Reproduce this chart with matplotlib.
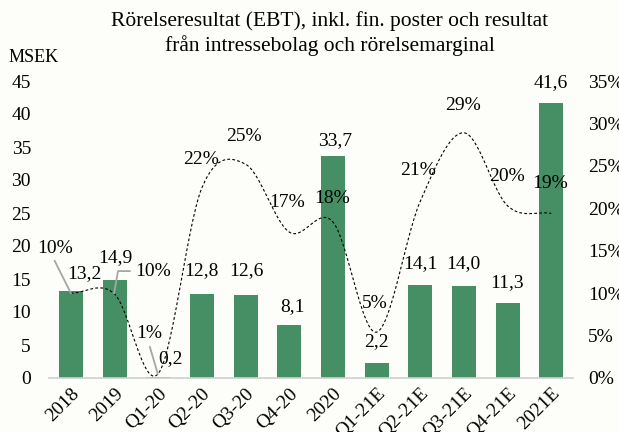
import numpy as np
import matplotlib.pyplot as plt

plt.rcParams['font.family'] = ['Liberation Serif', 'DejaVu Serif']

kategorier = ['2018', '2019', 'Q1-20', 'Q2-20', 'Q3-20', 'Q4-20', '2020',
              'Q1-21E', 'Q2-21E', 'Q3-21E', 'Q4-21E', '2021E']
ebt = [13.2, 14.9, 0.2, 12.8, 12.6, 8.1, 33.7, 2.2, 14.1, 14.0, 11.3, 41.6]
marginal = [10.0, 9.9, 0.5, 22.4, 25.2, 17.2, 18.4, 5.4, 20.8, 28.9, 20.3, 19.4]
marginal_text = ['10%', '10%', '1%', '22%', '25%', '17%', '18%', '5%', '21%', '29%', '20%', '19%']

gron = '#468f64'
bg = '#fdfdf9'


def catmull_rom(x, y, n=30):
    # jämn kurva genom punkterna (som Excels utjämnade linje)
    x = np.asarray(x, float)
    y = np.asarray(y, float)
    px = np.concatenate([[2 * x[0] - x[1]], x, [2 * x[-1] - x[-2]]])
    py = np.concatenate([[2 * y[0] - y[1]], y, [2 * y[-1] - y[-2]]])
    xs, ys = [], []
    t = np.linspace(0, 1, n)
    for i in range(1, len(px) - 2):
        for p, out in ((px, xs), (py, ys)):
            p0, p1, p2, p3 = p[i - 1], p[i], p[i + 1], p[i + 2]
            out.extend(0.5 * ((2 * p1) + (-p0 + p2) * t +
                              (2 * p0 - 5 * p1 + 4 * p2 - p3) * t ** 2 +
                              (-p0 + 3 * p1 - 3 * p2 + p3) * t ** 3))
    return np.array(xs), np.array(ys)


fs = 14
fig = plt.figure(figsize=(6.19, 4.32), dpi=100, facecolor=bg)
ax = fig.add_axes([0.0792, 0.125, 0.8465, 0.6875], facecolor=bg)
x = np.arange(len(kategorier))
ax.bar(x, ebt, width=0.55, color=gron, zorder=2)
ax.set_xlim(-0.5, 11.5)
ax.set_ylim(0, 45)
ax.set_yticks(range(0, 46, 5))
ax.set_xticks(x)
ax.set_xticklabels(kategorier, rotation=45, ha='right', rotation_mode='anchor', fontsize=fs)
ax.tick_params(axis='x', length=0, pad=5)
ax.tick_params(axis='y', length=0, labelsize=fs, pad=13)
for s in ['top', 'right', 'left']:
    ax.spines[s].set_visible(False)
ax.spines['bottom'].set_color('#d0d0d0')
ax.spines['bottom'].set_linewidth(1.2)

ax2 = ax.twinx()
ax2.set_ylim(0, 35)
ax2.set_yticks(range(0, 36, 5))
ax2.set_yticklabels([f'{v}%' for v in range(0, 36, 5)])
ax2.tick_params(axis='y', length=0, labelsize=fs, pad=11)
for s in ['top', 'right', 'left', 'bottom']:
    ax2.spines[s].set_visible(False)

sx, sy = catmull_rom(x, marginal)
ax2.plot(sx, sy, color='black', lw=0.8, ls=(0, (2.5, 2)), zorder=3)

# etiketter för staplarna (MSEK)
ebt_pos = [(0.32, 15.8), (1.01, 18.3), (2.29, 2.9), (3.0, 16.2), (4.01, 16.2), (5.08, 10.8),
           (6.05, 35.9), (7.0, 5.5), (8.0, 17.4), (8.98, 17.4), (9.99, 14.5), (10.98, 44.8)]
for v, (px, py) in zip(ebt, ebt_pos):
    ax.text(px, py, f'{v:.1f}'.replace('.', ','), ha='center', va='center', fontsize=fs, zorder=4)

# etiketter för marginalen
marg_pos = [(-0.37, 15.3), (1.88, 12.6), (1.79, 5.2), (2.98, 25.7), (3.96, 28.5), (4.95, 20.7),
            (5.98, 21.2), (6.97, 8.8), (7.95, 24.5), (8.98, 32.1), (9.99, 23.7), (10.98, 22.9)]
for t, (px, py) in zip(marginal_text, marg_pos):
    ax2.text(px, py, t, ha='center', va='center', fontsize=fs, zorder=4)

# hänvisningslinjer
grå = '#a6a6a6'
ax2.plot([-0.37, 0.0], [13.8, 10.0], color=grå, lw=1.3, zorder=3)
ax2.plot([1.35, 1.08, 0.99], [12.6, 12.6, 10.0], color=grå, lw=1.3, zorder=3)
ax2.plot([1.81, 1.99], [3.65, 0.5], color=grå, lw=1.3, zorder=3)

fig.text(0.013, 0.868, 'MSEK', fontsize=13, ha='left', va='center')
fig.text(0.533, 0.952, 'Rörelseresultat (EBT), inkl. fin. poster och resultat', fontsize=15.5,
         ha='center', va='center')
fig.text(0.533, 0.895, 'från intressebolag och rörelsemarginal', fontsize=15.5,
         ha='center', va='center')

fig.savefig('out.png', dpi=100, facecolor=bg)
